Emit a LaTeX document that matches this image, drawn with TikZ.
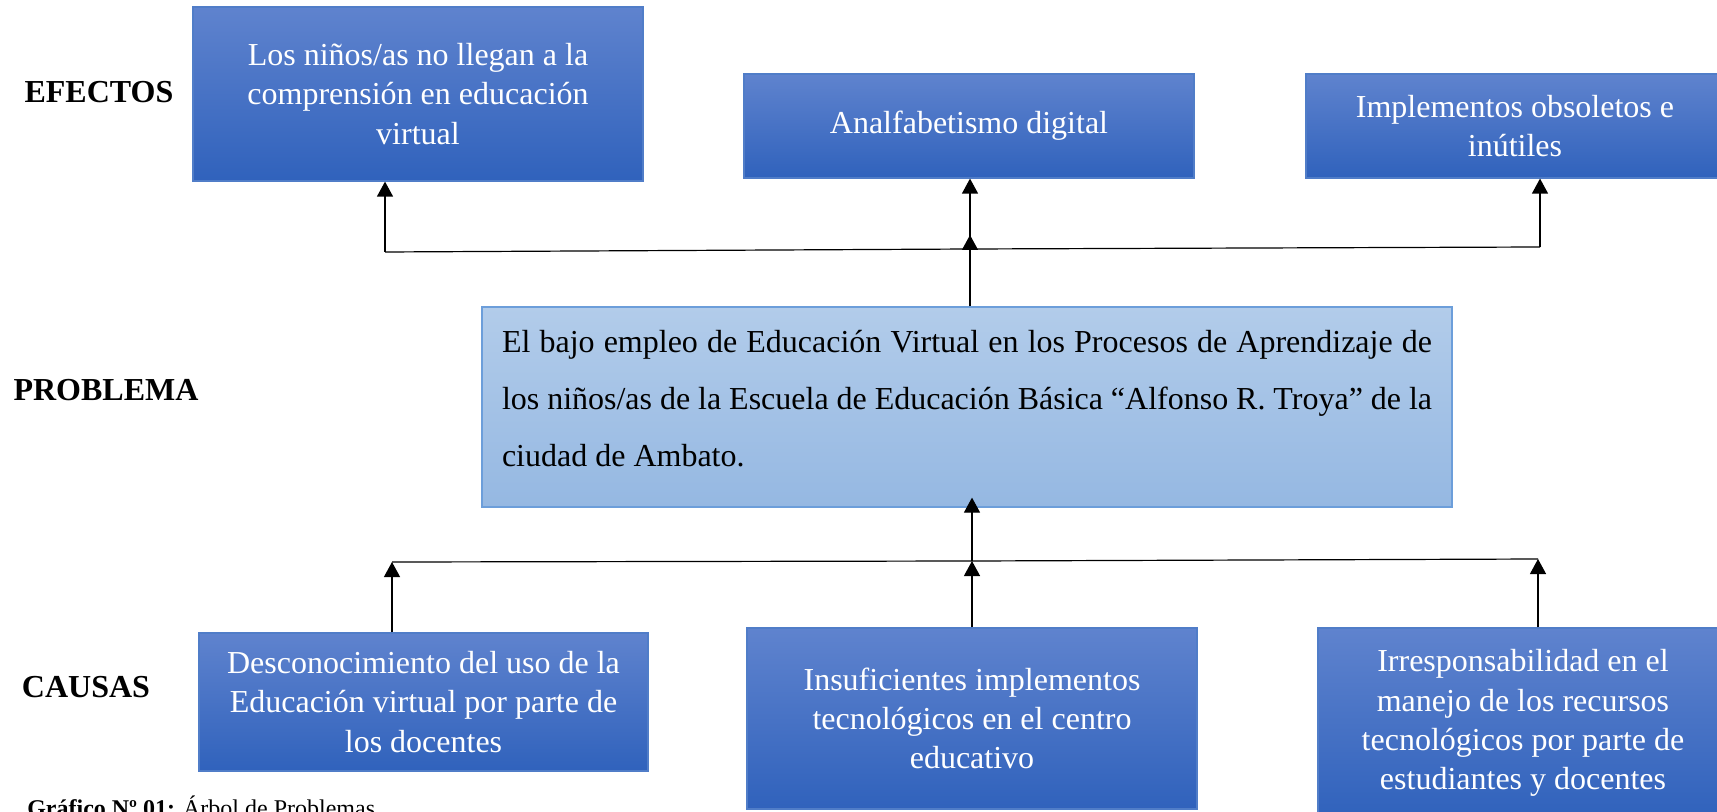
\documentclass[tikz,border=0pt]{standalone}
\usepackage{fontspec}
\setmainfont{Liberation Serif}
\usetikzlibrary{arrows.meta}
\definecolor{box_top}{RGB}{95,131,206}
\definecolor{box_bot}{RGB}{48,98,188}
\definecolor{box_edge}{RGB}{80,125,200}
\definecolor{prob_top}{RGB}{178,204,234}
\definecolor{prob_bot}{RGB}{149,184,226}
\definecolor{prob_edge}{RGB}{108,158,218}

\begin{document}
\begin{tikzpicture}[x=0.5pt,y=-0.5pt,->,line width=0.6pt,>={Triangle[width=8pt,length=7.5pt]}]
    \tikzstyle{level}=[font=\fontsize{16}{19}\selectfont\bfseries,text=black]
    \tikzstyle{item}=[draw=box_edge, rectangle, top color=box_top, bottom color=box_bot, text=white, align=center, inner sep=0pt, font=\fontsize{16}{19.6}\selectfont]
    \tikzstyle{problem}=[draw=prob_edge, rectangle, top color=prob_top, bottom color=prob_bot, text=black, inner sep=0pt, font=\fontsize{16}{28.5}\selectfont]

    \useasboundingbox (0,0) rectangle (1717,812);

    \node[level] (efectos)  at (99,92)   {EFECTOS};
    \node[level] (problema) at (106,390) {PROBLEMA};
    \node[level] (causas)   at (86,687)  {CAUSAS};

    \node[item, minimum width=225pt, minimum height=87pt] (e1) at (418,94) {Los niños/as no llegan a la\\comprensión en educación\\virtual};
    \node[item, minimum width=225pt, minimum height=52pt] (e2) at (969,126) {Analfabetismo digital};
    \node[item, minimum width=209pt, minimum height=52pt] (e3) at (1515,126) {Implementos obsoletos e\\inútiles};

    \node[problem, minimum width=485pt, minimum height=100pt] (prob) at (967,407)
      {\parbox[c][76.5pt][t]{465pt}{\noindent El bajo empleo de Educación Virtual en los Procesos de Aprendizaje de\linebreak los niños/as de la Escuela de Educación Básica “Alfonso R. Troya” de la\linebreak ciudad de Ambato.}};

    \node[item, minimum width=224.5pt, minimum height=69pt] (c1) at (423.5,702) {Desconocimiento del uso de la\\Educación virtual por parte de\\los docentes};
    \node[item, minimum width=225pt, minimum height=90.5pt] (c2) at (972,718.5) {Insuficientes implementos\\tecnológicos en el centro\\educativo};
    \node[item, minimum width=205pt, minimum height=95pt] (c3) at (1523,723) {Irresponsabilidad en el\\manejo de los recursos\\tecnológicos por parte de\\estudiantes y docentes};

    \node[anchor=base west, font=\fontsize{12}{14}\selectfont] (caption) at (20,816) {\textbf{Gráfico Nº 01:} Árbol de Problemas};

    % effects
    \coordinate (ej1) at (385,252);
    \coordinate (ej2) at (970,249);
    \coordinate (ej3) at (1540,247);
    \draw[-] (ej1) -- (ej2) -- (ej3);
    \draw (ej1) -- (ej1 |- e1.south);
    \draw (ej2) -- (ej2 |- e2.south);
    \draw (ej3) -- (ej3 |- e3.south);
    \draw[shorten >=-7pt] (prob.north -| ej2) -- (ej2);

    % causes
    \coordinate (cj1) at (392,562);
    \coordinate (cj2) at (972,561);
    \coordinate (cj3) at (1538,559);
    \draw[-] (cj1) -- (cj2) -- (cj3);
    \draw (cj1 |- c1.north) -- (cj1);
    \draw (cj2 |- c2.north) -- (cj2);
    \draw (cj3 |- c3.north) -- (cj3);
    \draw[shorten >=-5pt] (cj2) -- (cj2 |- prob.south);
\end{tikzpicture}
\end{document}
